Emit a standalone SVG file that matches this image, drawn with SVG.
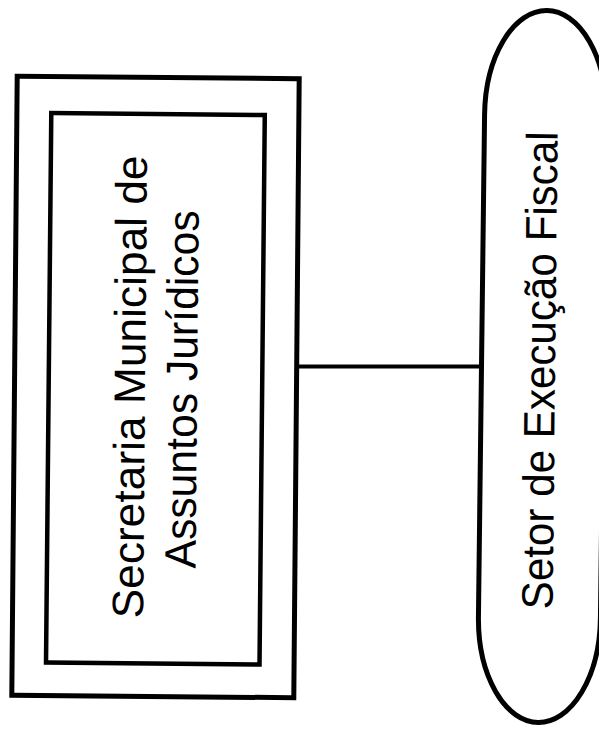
<svg xmlns="http://www.w3.org/2000/svg" width="599" height="729" viewBox="0 0 599 729">
<style>
.box{fill:none;stroke:#000;stroke-width:5}
.inner{fill:none;stroke:#000;stroke-width:4.5}
.lbl{font-family:"Liberation Sans",Arial,sans-serif;font-size:44px;fill:#000;text-anchor:middle}
.conn{stroke:#000;stroke-width:4;fill:none}
</style>
<rect width="599" height="729" fill="#fff"/>
<g id="connectors">
<line class="conn" x1="298" y1="366.5" x2="482" y2="366.5"/>
</g>
<g id="node-secretaria">
<rect class="box" x="-141" y="-309.5" width="282" height="619" transform="translate(155.5,387) rotate(0.5)"/>
<rect class="inner" x="-106.75" y="-274.75" width="213.5" height="549.5" transform="translate(155.4,388.8) rotate(0.55)"/>
<text class="lbl" transform="translate(145,387) rotate(-89.5)" textLength="463" lengthAdjust="spacingAndGlyphs">Secretaria Municipal de</text>
<text class="lbl" transform="translate(197,389.5) rotate(-89.5)" textLength="358" lengthAdjust="spacingAndGlyphs">Assuntos Jurídicos</text>
</g>
<g id="node-setor">
<rect class="box" x="-61" y="-356" width="122" height="712" rx="61" ry="105" transform="translate(542.5,366.5) rotate(0.7)"/>
<text class="lbl" transform="translate(555,370.5) rotate(-89.4)" textLength="478" lengthAdjust="spacingAndGlyphs">Setor de Execução Fiscal</text>
</g>
</svg>
